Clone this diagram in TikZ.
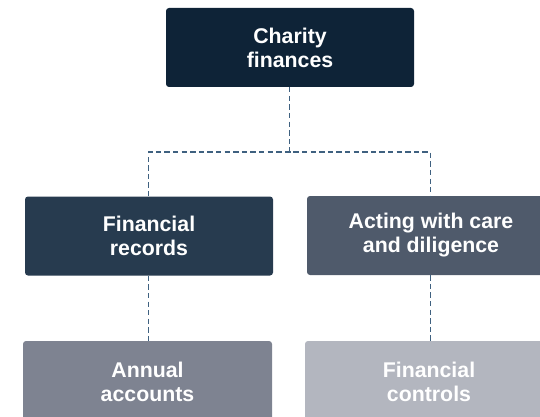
\documentclass[tikz,border=0pt]{standalone}
\usepackage{fontspec}
\setmainfont{Liberation Sans}
\definecolor{cTop}{HTML}{0E2337}
\definecolor{cRec}{HTML}{273B4F}
\definecolor{cAct}{HTML}{4F5A6B}
\definecolor{cAnn}{HTML}{7E8391}
\definecolor{cCtl}{HTML}{B3B6BF}
\definecolor{cLine}{HTML}{3F6180}
\begin{document}
\begin{tikzpicture}[x=1pt,y=-1pt,
  box/.style={rounded corners=3pt, minimum width=248pt, minimum height=79pt,
    inner sep=0pt, align=center, text=white,
    font=\fontsize{21.3pt}{24pt}\selectfont\bfseries},
  link/.style={draw=cLine, line width=1.6pt, dash pattern=on 5.3pt off 3.3pt}]
\useasboundingbox (0,0) rectangle (540,417);
\clip (0,0) rectangle (540,417);
\node[box, fill=cTop] (top) at (290,47.5) {Charity\\finances};
\node[box, fill=cRec] (rec) at (149,236) {Financial\\records};
\node[box, fill=cAct] (act) at (431,235.5) {Acting with care\\and diligence};
\node[box, fill=cAnn, minimum width=249pt, minimum height=82pt] (ann) at (147.5,382) {Annual\\accounts};
\node[box, fill=cCtl, minimum height=82pt] (ctl) at (429,382) {Financial\\controls};
\coordinate (j) at (289.5,152);
\draw[link] (top.south -| j) -- (j);
\draw[link] (rec.north -| 148.5,0) |- (j) -| (act.north -| 430.3,0);
\draw[link] (rec.south -| 148.5,0) -- (ann.north -| 148.5,0);
\draw[link] (act.south -| 430.3,0) -- (ctl.north -| 430.3,0);
\end{tikzpicture}
\end{document}
